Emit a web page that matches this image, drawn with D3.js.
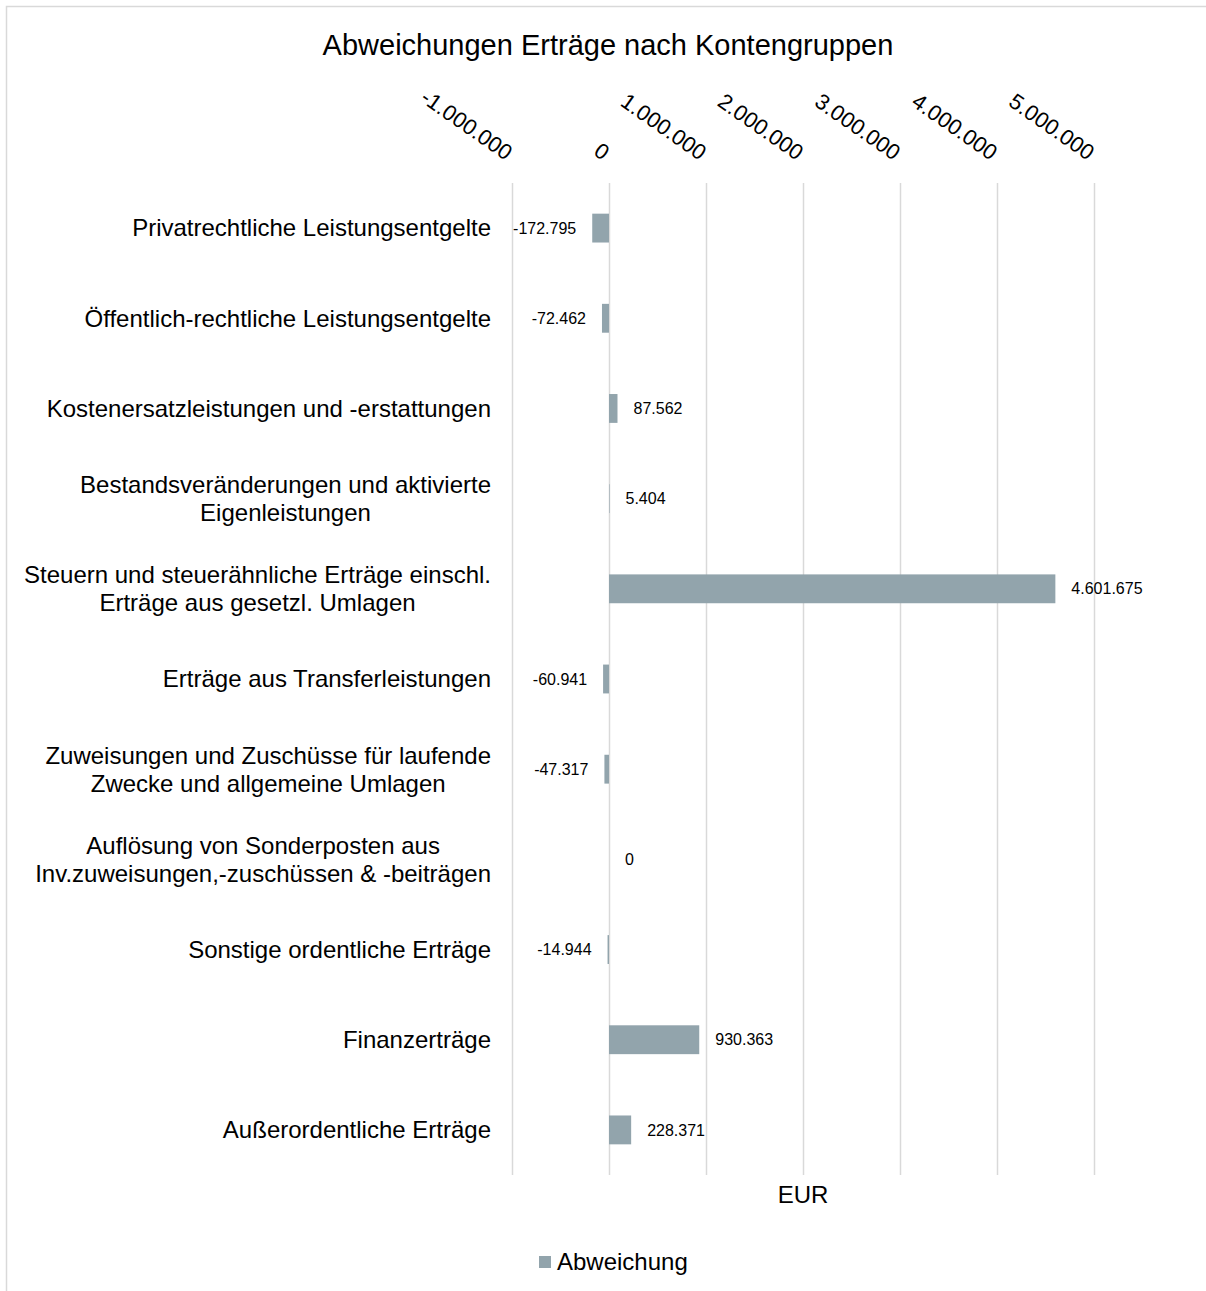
<!DOCTYPE html>
<html>
<head>
<meta charset="utf-8">
<script src="https://cdn.jsdelivr.net/npm/d3@7"></script>
<style>
  body { margin: 0; background: #fff; }
  text { font-family: "Liberation Sans", Arial, sans-serif; fill: #000; }
</style>
</head>
<body>
<svg id="vis" width="1206" height="1291"></svg>
<script>
// chart data
const title = "Abweichungen Erträge nach Kontengruppen";
const categories = [
  "Privatrechtliche Leistungsentgelte",
  "Öffentlich-rechtliche Leistungsentgelte",
  "Kostenersatzleistungen und -erstattungen",
  "Bestandsveränderungen und aktivierte\nEigenleistungen",
  "Steuern und steuerähnliche Erträge einschl.\nErträge aus gesetzl. Umlagen",
  "Erträge aus Transferleistungen",
  "Zuweisungen und Zuschüsse für laufende\nZwecke und allgemeine Umlagen",
  "Auflösung von Sonderposten aus\nInv.zuweisungen,-zuschüssen & -beiträgen",
  "Sonstige ordentliche Erträge",
  "Finanzerträge",
  "Außerordentliche Erträge"
];
const values = [-172795, -72462, 87562, 5404, 4601675, -60941, -47317, 0, -14944, 930363, 228371];
const xTicks = [-1000000, 0, 1000000, 2000000, 3000000, 4000000, 5000000];
const seriesName = "Abweichung";
const axisTitle = "EUR";

const color = "#92a4ac";
const grid = "#d9d9d9";

// german number format
const de = d3.formatLocale({decimal: ",", thousands: ".", grouping: [3], currency: ["", " €"], minus: "-"});
const fmt = de.format(",.0f");

const svg = d3.select("svg#vis");

// chart frame
svg.append("rect")
  .attr("x", 6.5).attr("y", 6.5)
  .attr("width", 1240).attr("height", 1320)
  .attr("fill", "none")
  .attr("stroke", grid)
  .attr("stroke-width", 1.5);

const plot = {left: 512, right: 1094, top: 183, bottom: 1175};

const x = d3.scaleLinear()
  .domain([d3.min(xTicks), d3.max(xTicks)])
  .range([plot.left, plot.right]);

const y = d3.scaleBand()
  .domain(categories)
  .range([plot.top, plot.bottom])
  .paddingInner(0.68)
  .paddingOuter(0.34);

// title
svg.append("text")
  .attr("x", 608)
  .attr("y", 55)
  .attr("text-anchor", "middle")
  .style("font-size", "29px")
  .text(title);

// gridlines
const gridAxis = svg.append("g")
  .attr("transform", `translate(0,${plot.bottom})`)
  .call(d3.axisBottom(x).tickValues(xTicks).tickSize(-(plot.bottom - plot.top)).tickFormat(""));
gridAxis.select(".domain").remove();
gridAxis.selectAll("line").attr("stroke", grid).attr("stroke-width", 1.5);

// top axis labels, rotated
const topAxis = svg.append("g")
  .attr("transform", "translate(0,0)")
  .call(d3.axisTop(x).tickValues(xTicks).tickSize(0).tickFormat(fmt));
topAxis.select(".domain").remove();
topAxis.selectAll(".tick text")
  .attr("text-anchor", "end")
  .attr("x", -7)
  .attr("y", 0)
  .attr("dy", 0)
  .attr("transform", "translate(0,161) rotate(35,-7,0)")
  .style("font-size", "22px")
  .attr("fill", "#000");

// bars
svg.append("g").selectAll("rect")
  .data(values)
  .join("rect")
  .attr("x", d => x(Math.min(0, d)))
  .attr("y", (d, i) => y(categories[i]))
  .attr("width", d => Math.abs(x(d) - x(0)))
  .attr("height", y.bandwidth())
  .attr("fill", color);

// value labels
svg.append("g").selectAll("text")
  .data(values)
  .join("text")
  .attr("x", d => d < 0 ? x(d) - 16 : x(d) + 16)
  .attr("y", (d, i) => y(categories[i]) + y.bandwidth() / 2)
  .attr("dy", "0.35em")
  .attr("text-anchor", d => d < 0 ? "end" : "start")
  .style("font-size", "16px")
  .text(d => fmt(d));

// category labels, multi-line centred within a right-aligned block
const labelRight = 491;
const lineH = 28;
const labels = svg.append("g").selectAll("g")
  .data(categories)
  .join("g");

labels.each(function(c) {
  const g = d3.select(this);
  const lines = c.split("\n");
  const cy = y(c) + y.bandwidth() / 2;
  const texts = g.selectAll("text")
    .data(lines)
    .join("text")
    .attr("y", (d, i) => cy + (i - (lines.length - 1) / 2) * lineH)
    .attr("dy", "0.35em")
    .attr("text-anchor", "middle")
    .style("font-size", "24px")
    .text(d => d);
  let w = 0;
  texts.each(function() { w = Math.max(w, this.getComputedTextLength()); });
  texts.attr("x", labelRight - w / 2);
});

// axis title
svg.append("text")
  .attr("x", (plot.left + plot.right) / 2)
  .attr("y", 1203)
  .attr("text-anchor", "middle")
  .style("font-size", "24px")
  .text(axisTitle);

// legend
const legend = svg.append("g").attr("transform", "translate(539,1256)");
legend.append("rect")
  .attr("width", 12).attr("height", 12)
  .attr("fill", color);
legend.append("text")
  .attr("x", 18)
  .attr("y", 14)
  .style("font-size", "24px")
  .text(seriesName);
</script>
</body>
</html>
